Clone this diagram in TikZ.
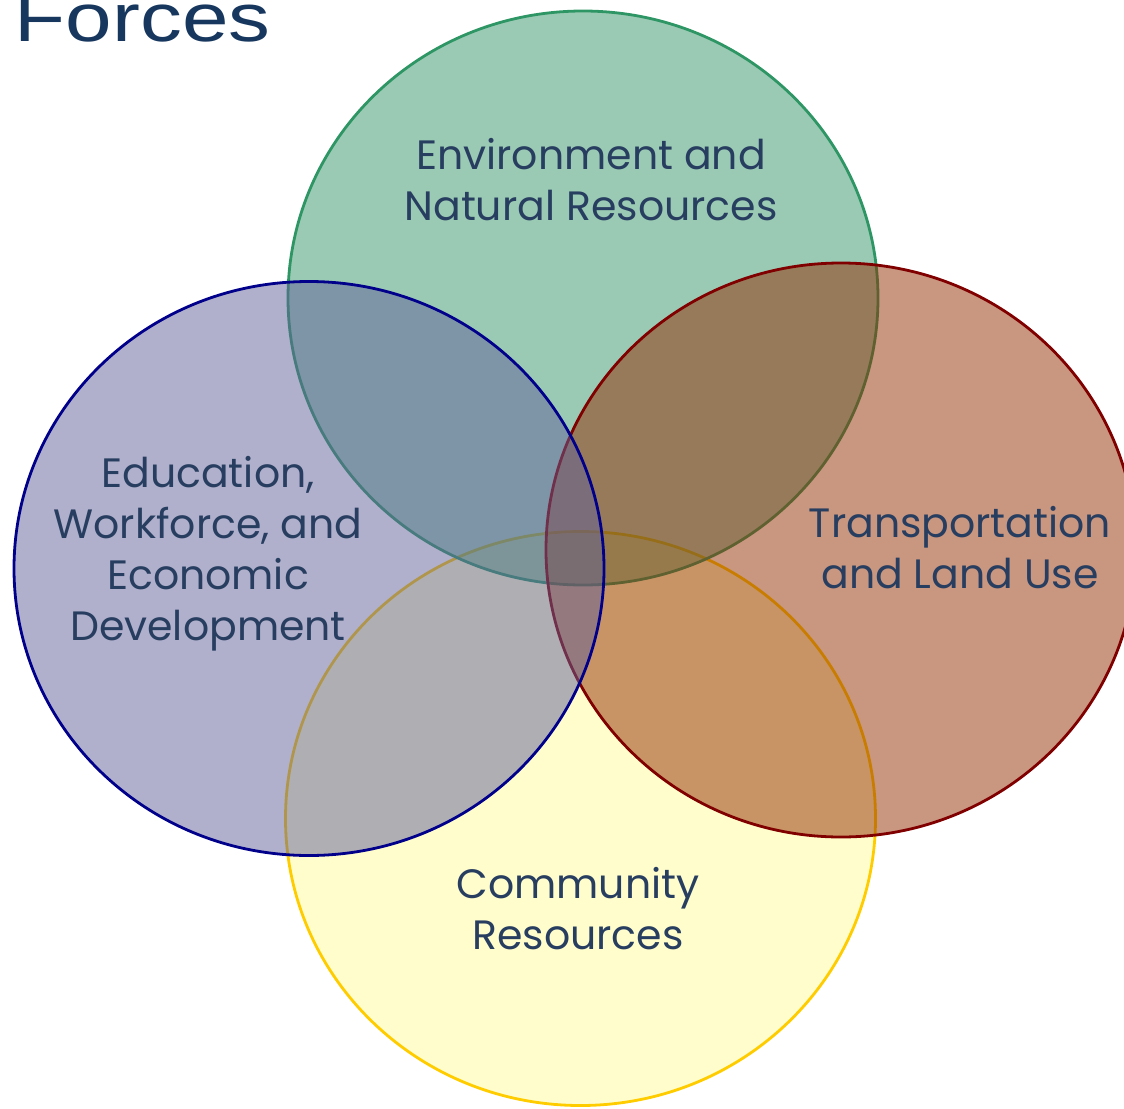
\documentclass[tikz,border=0pt]{standalone}
\usepackage{fontspec}
\setmainfont{Poppins}
\newfontfamily\titlefont{Liberation Sans}
\usetikzlibrary{positioning}

\definecolor{envfill}{RGB}{55,149,105}
\definecolor{envline}{RGB}{46,150,100}
\definecolor{edufill}{RGB}{97,97,153}
\definecolor{eduline}{RGB}{0,0,139}
\definecolor{trafill}{RGB}{147,45,0}
\definecolor{traline}{RGB}{128,0,0}
\definecolor{comfill}{RGB}{255,251,153}
\definecolor{comline}{RGB}{255,204,0}
\definecolor{labeltext}{RGB}{40,62,96}
\definecolor{titletext}{RGB}{23,55,94}

\begin{document}
\begin{tikzpicture}[
            x = 0.5pt, y = -0.5pt, % pixel grid of the slide
            line width = 1.4pt, % ellipse outline
            fill opacity = 0.5,
            draw opacity = 1
        ]

        \tikzstyle{area label}=[
            text = labeltext,
            text opacity = 1,
            align = center,
            font = \fontsize{20.5pt}{25.5pt}\selectfont
        ]

        \useasboundingbox (0,0) rectangle (1124,1108);
        \clip (0,0) rectangle (1124,1108);

        % the four forces
        \draw[draw = comline, fill = comfill] (580.5,818.5) ellipse [x radius=295, y radius=287];
        \draw[draw = envline, fill = envfill] (583,298) ellipse [x radius=295, y radius=287];
        \draw[draw = traline, fill = trafill] (841,550) ellipse [x radius=295, y radius=287];
        \draw[draw = eduline, fill = edufill] (309,568.5) ellipse [x radius=295, y radius=287];

        \node[area label] (env) at (591,180) {Environment and\\Natural Resources};
        \node[area label] (edu) at (208,554) {Education,\\Workforce, and\\Economic\\Development};
        \node[area label] (tra) at (960,548) {Transportation\\and Land Use};
        \node[area label] (com) at (578,909) {Community\\Resources};

        \node[anchor = base west, inner sep = 0pt, text = titletext, text opacity = 1,
              font = \titlefont\fontsize{34pt}{40pt}\selectfont, xscale = 1.23]
              (title) at (13,41) {Forces};

  \end{tikzpicture}
\end{document}
